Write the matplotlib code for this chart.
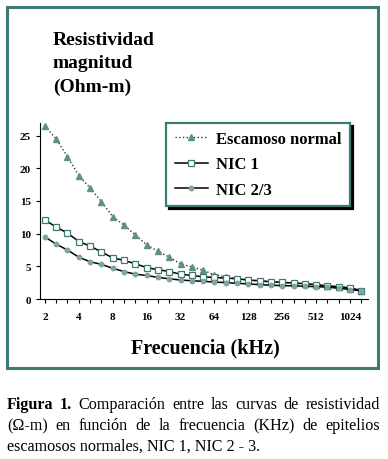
import numpy as np
import matplotlib.pyplot as plt
from matplotlib.patches import Rectangle
from matplotlib.ticker import NullFormatter

# frecuencias (kHz), 3 puntos por octava
freqs = [2, 2.52, 3.17, 4, 5.04, 6.35, 8, 10.1, 12.7, 16, 20.2, 25.4, 32, 40.3,
         50.8, 64, 80.6, 102, 128, 161, 203, 256, 323, 406, 512, 645, 813, 1024, 1290]
escamoso = [26.5, 24.5, 21.8, 18.9, 17.0, 14.9, 12.6, 11.3, 9.8, 8.3, 7.3, 6.4, 5.4, 4.9,
            4.4, 3.7, 3.4, 3.1, 2.9, 2.7, 2.6, 2.5, 2.4, 2.3, 2.2, 2.0, 1.8, 1.6, 1.3]
nic1 = [12.1, 11.0, 10.1, 8.8, 8.1, 7.2, 6.3, 5.9, 5.4, 4.8, 4.5, 4.2, 3.8, 3.6,
        3.4, 3.3, 3.2, 3.1, 2.9, 2.8, 2.65, 2.55, 2.45, 2.35, 2.2, 2.0, 1.9, 1.7, 1.3]
nic23 = [9.5, 8.4, 7.5, 6.4, 5.7, 5.3, 4.7, 4.2, 3.8, 3.6, 3.3, 3.1, 2.9, 2.8,
         2.7, 2.6, 2.5, 2.4, 2.3, 2.2, 2.1, 2.05, 2.0, 1.95, 1.9, 1.8, 1.65, 1.45, 1.25]
xticks = [2, 4, 8, 16, 32, 64, 128, 256, 512, 1024]
yticks = [0, 5, 10, 15, 20, 25]

teal = '#3d7b74'
serif = 'Liberation Serif'
plt.rcParams['font.family'] = serif

W, H = 388, 460
fig = plt.figure(figsize=(W/100, H/100), dpi=100)
fig.patches.append(Rectangle((7/W, (H-369)/H), 371/W, 361/H, transform=fig.transFigure,
                             fill=False, edgecolor=teal, lw=2.2))

ax = fig.add_axes([40/W, 1-300/H, 328/W, 176.4/H])
ax.set_xscale('log', base=2)
ax.plot(freqs, escamoso, ':', color='#333333', lw=1, marker='^', ms=3.8,
        mfc='#5e8f88', mec='#5e8f88', label='Escamoso normal')
ax.plot(freqs, nic1, '-', color='black', lw=1.1, marker='s', ms=4.2,
        mfc='white', mec=teal, mew=0.9, label='NIC 1')
ax.plot(freqs, nic23, '-', color='black', lw=1.1, marker='o', ms=3.2,
        mfc='#7fa39e', mec='#7fa39e', label='NIC 2/3')

ax.set_xlim(1.81, 1478)
ax.set_ylim(0, 27)
ax.set_xticks(xticks)
ax.set_xticks(freqs, minor=True)
ax.xaxis.set_minor_formatter(NullFormatter())
ax.set_xticklabels([str(t) for t in xticks], fontsize=8, fontweight='bold')
ax.set_yticks(yticks)
ax.set_yticklabels([str(t) for t in yticks], fontsize=8, fontweight='bold')
ax.tick_params(axis='x', which='both', direction='out', length=3, width=0.8, pad=6)
ax.tick_params(axis='y', direction='out', length=3, width=0.8)
for s in ['top', 'right']:
    ax.spines[s].set_visible(False)

leg = ax.legend(loc='upper left', bbox_to_anchor=(0.36, 1.045), fancybox=False,
                shadow={'color': 'black', 'alpha': 1}, edgecolor=teal, framealpha=1,
                prop={'family': serif, 'weight': 'bold', 'size': 12},
                handlelength=2.0, labelspacing=0.55, borderpad=0.5, handletextpad=0.5)
leg.get_frame().set_linewidth(1.6)

fig.text(53/W, 1-64/H, 'Resistividad\nmagnitud\n(Ohm-m)', fontsize=14, fontweight='bold',
         va='center', ha='left', linespacing=1.45)
fig.text(205/W, 1-348/H, 'Frecuencia (kHz)', fontsize=14.5, fontweight='bold',
         ha='center', va='center')

# pie de figura, justificado
caption = [
    [('Figura', True), ('1.', True), ('Comparación', False), ('entre', False), ('las', False),
     ('curvas', False), ('de', False), ('resistividad', False)],
    [('(Ω-m)', False), ('en', False), ('función', False), ('de', False), ('la', False),
     ('frecuencia', False), ('(KHz)', False), ('de', False), ('epitelios', False)],
    [('escamosos normales, NIC 1, NIC 2 - 3.', False)],
]
renderer = fig.canvas.get_renderer()
x0, x1 = 7, 380
for i, line in enumerate(caption):
    y = 1 - (405 + 21*i)/H
    texts = [fig.text(0, y, w, fontsize=11.6, fontweight='bold' if b else 'normal',
                      va='center', ha='left') for w, b in line]
    widths = [t.get_window_extent(renderer).width for t in texts]
    gap = (x1 - x0 - sum(widths)) / max(len(texts) - 1, 1) if len(texts) > 1 else 0
    x = x0
    for t, w in zip(texts, widths):
        t.set_x(x/W)
        x += w + gap

fig.savefig('out.png', dpi=100)
